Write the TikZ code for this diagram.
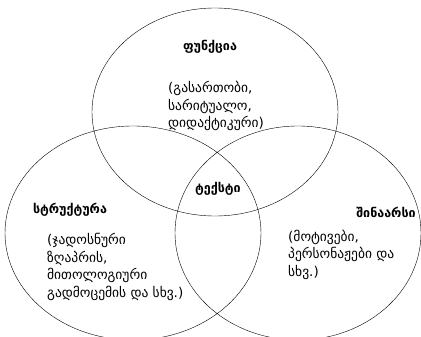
\documentclass[tikz,border=0pt]{standalone}
\usepackage{fontspec}
\newfontfamily\geo{DejaVu Sans}
\begin{document}
\begin{tikzpicture}[x=1pt,y=-1pt,line join=round,line cap=round,
	font=\geo\fontsize{13.5}{17.5}\selectfont,
	head/.style={font=\geo\bfseries\fontsize{12.5}{14}\selectfont,inner sep=0pt},
	body/.style={align=left,anchor=base west,inner sep=0pt}]
	\useasboundingbox (0,0) rectangle (421,337);
	\draw (215,112) ellipse [x radius=123,y radius=104]
		(133,233) ellipse [x radius=128,y radius=107]
		(298,233) ellipse [x radius=123,y radius=107];
	% base = last line
	\node[head] (funk) at (210,47) {ფუნქცია};
	\node[body] (funktxt) at (168,128) {(გასართობი,\\სარიტუალო,\\დიდაქტიკური)};
	\node[head] (strukt) at (70,210) {სტრუქტურა};
	\node[body] (strukttxt) at (47,297) {(ჯადოსნური\\ზღაპრის,\\მითოლოგიური\\გადმოცემის და სხვ.)};
	\node[head] (shin) at (386,212) {შინაარსი};
	\node[body] (shintxt) at (288,276) {(მოტივები,\\პერსონაჟები და\\სხვ.)};
	\node[head] (tekst) at (218,189) {ტექსტი};
\end{tikzpicture}
\end{document}
